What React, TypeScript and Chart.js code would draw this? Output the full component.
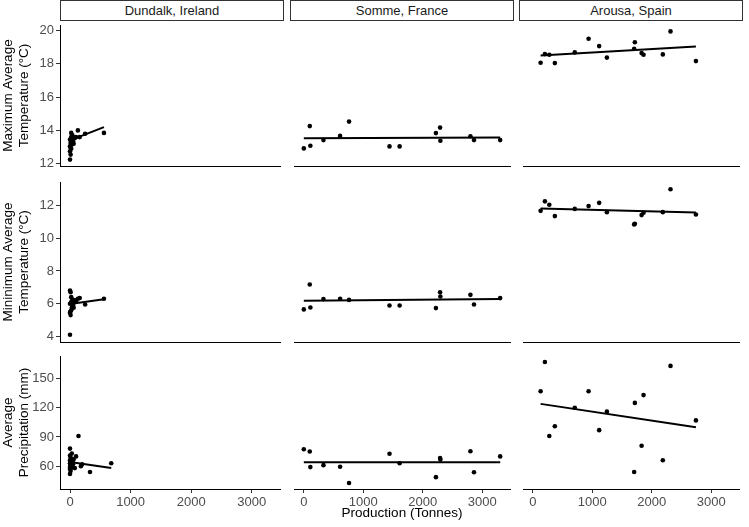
import React, { useEffect, useRef } from "react";
import { Chart, registerables } from "chart.js";

Chart.register(...registerables);

// ---------------- data ----------------
const sites = ["Dundalk, Ireland", "Somme, France", "Arousa, Spain"];
const rowTitles = [
  ["Maximum Average", "Temperature (°C)"],
  ["Mininimum Average", "Temperature (°C)"],
  ["Average", "Precipitation (mm)"],
];
const xTitle = "Production (Tonnes)";

const xTicks = [0, 1000, 2000, 3000];
const maxTempTicks = [12, 14, 16, 18, 20];
const minTempTicks = [4, 6, 8, 10, 12];
const precipTicks = [60, 90, 120, 150];

// Dundalk, Ireland
const dundalkX = [0, 10, 0, 20, 0, 30, 10, 50, 0, 60, 20, 80, 40, 100, 130, 160, 60, 250, 20, 40, 560, 5];
const dundalkMaxTemp = [12.25, 12.55, 12.75, 12.9, 13.05, 13.15, 13.25, 13.35, 13.45, 13.5, 13.6, 13.55, 13.7, 13.6, 14.0, 13.6, 13.2, 13.8, 13.85, 13.4, 13.85, 13.0];
const dundalkMinTemp = [4.1, 5.3, 5.45, 5.6, 6.8, 5.75, 6.7, 5.9, 6.0, 6.05, 6.1, 6.2, 6.25, 6.15, 6.3, 6.35, 5.75, 5.95, 6.4, 6.0, 6.3, 5.5];
const dundalkPrecipX = [0, 10, 0, 20, 0, 30, 10, 50, 0, 20, 40, 0, 60, 10, 0, 30, 0, 140, 100, 180, 330, 680, 200, 80];
const dundalkPrecip = [52, 55, 57, 58, 59, 60, 61, 62, 63, 64, 65, 66, 67, 69, 71, 73, 78, 91, 70, 60, 54, 63, 62, 58];
const dundalkFitX = [0, 560];
const dundalkPrecipFitX = [0, 680];
const dundalkMaxTempFit = [13.4, 14.2];
const dundalkMinTempFit = [5.98, 6.27];
const dundalkPrecipFit = [64.2, 58];

// Somme, France
const sommeX = [0, 100, 110, 330, 610, 760, 1440, 1610, 2220, 2290, 2295, 2800, 2860, 3300];
const sommeMaxTemp = [12.92, 14.26, 13.08, 13.42, 13.67, 14.53, 13.04, 13.04, 13.84, 14.17, 13.38, 13.65, 13.42, 13.42];
const sommeMinTemp = [5.65, 7.17, 5.77, 6.28, 6.3, 6.23, 5.89, 5.89, 5.73, 6.7, 6.44, 6.54, 5.95, 6.34];
const sommePrecip = [77.3, 75, 59, 61, 59.3, 42.7, 72.7, 63, 48.7, 68.3, 66.7, 75.3, 53.7, 70];
const sommeFitX = [0, 3300];
const sommeMaxTempFit = [13.53, 13.57];
const sommeMinTempFit = [6.18, 6.28];
const sommePrecipFit = [64, 64];

// Arousa, Spain
const arousaX = [131, 203, 277, 370, 705, 937, 1115, 1245, 1703, 1715, 1828, 1861, 2185, 2314, 2741];
const arousaMaxTemp = [18.06, 18.58, 18.54, 18.04, 18.68, 19.5, 19.06, 18.37, 18.9, 19.29, 18.64, 18.54, 18.56, 19.94, 18.16];
const arousaMinTemp = [11.68, 12.26, 12.05, 11.36, 11.8, 11.97, 12.17, 11.6, 10.85, 10.89, 11.42, 11.56, 11.6, 13.0, 11.46];
const arousaPrecip = [137, 167, 91, 101, 120, 137, 97, 116, 54, 125, 81, 133, 66, 163, 107];
const arousaFitX = [131, 2741];
const arousaMaxTempFit = [18.49, 19.04];
const arousaMinTempFit = [11.82, 11.58];
const arousaPrecipFit = [124, 100];

// ---------------- layout / style ----------------
const FONT = "'Liberation Sans', Arial, Helvetica, sans-serif";
const COL_LEFT = [60, 290, 519];
const PANEL_W = 224;
const ROW_TOP = [21, 178, 352];
const ROW_H = [147, 166, 137];
const Y_AXIS_W = 60;
const X_AXIS_H = 38;
const X_RANGE = [-165, 3465];
const Y_RANGES = [
  [11.865, 20.325],
  [3.655, 13.445],
  [36.5, 173.2],
];
const Y_TICKS = [maxTempTicks, minTempTicks, precipTicks];

const POINTS = [
  [[dundalkX, dundalkMaxTemp], [sommeX, sommeMaxTemp], [arousaX, arousaMaxTemp]],
  [[dundalkX, dundalkMinTemp], [sommeX, sommeMinTemp], [arousaX, arousaMinTemp]],
  [[dundalkPrecipX, dundalkPrecip], [sommeX, sommePrecip], [arousaX, arousaPrecip]],
];
const FITS = [
  [[dundalkFitX, dundalkMaxTempFit], [sommeFitX, sommeMaxTempFit], [arousaFitX, arousaMaxTempFit]],
  [[dundalkFitX, dundalkMinTempFit], [sommeFitX, sommeMinTempFit], [arousaFitX, arousaMinTempFit]],
  [[dundalkPrecipFitX, dundalkPrecipFit], [sommeFitX, sommePrecipFit], [arousaFitX, arousaPrecipFit]],
];

const zip = (xs: number[], ys: number[]) => xs.map((x, i) => ({ x, y: ys[i] }));

const zeroPadding = (s: any) => {
  s.paddingTop = 0;
  s.paddingBottom = 0;
  s.paddingLeft = 0;
  s.paddingRight = 0;
};

function Panel({ row, col }: { row: number; col: number }) {
  const ref = useRef<HTMLCanvasElement | null>(null);
  const isBottom = row === 2;
  const hasY = col === 0;
  const left = hasY ? 0 : COL_LEFT[col];
  const width = hasY ? COL_LEFT[0] + PANEL_W : PANEL_W;
  const top = ROW_TOP[row];
  const height = ROW_H[row] + (isBottom ? X_AXIS_H : 2);

  useEffect(() => {
    if (!ref.current) return;
    const [px, py] = POINTS[row][col];
    const [fx, fy] = FITS[row][col];
    const tickFont = { family: FONT, size: 13 };
    const titleFont = { family: FONT, size: 13.5, lineHeight: 1.2 };
    const chart = new Chart(ref.current, {
      type: "scatter",
      data: {
        datasets: [
          {
            data: zip(fx, fy),
            showLine: true,
            pointRadius: 0,
            borderColor: "#000",
            borderWidth: 2,
            order: 0,
          },
          {
            data: zip(px, py),
            showLine: false,
            pointRadius: 2.3,
            pointBackgroundColor: "#000",
            pointBorderWidth: 0,
            order: 1,
          },
        ],
      },
      options: {
        responsive: false,
        animation: false,
        devicePixelRatio: 1,
        events: [],
        layout: { padding: 0 },
        plugins: {
          legend: { display: false },
          tooltip: { enabled: false },
          title: { display: false },
        },
        scales: {
          x: {
            type: "linear",
            position: "bottom",
            min: X_RANGE[0],
            max: X_RANGE[1],
            grid: {
              display: isBottom,
              drawOnChartArea: false,
              drawTicks: true,
              tickLength: 4,
              color: "#333",
              lineWidth: 1,
            },
            border: { display: true, color: "#000", width: 1 },
            ticks: {
              display: isBottom,
              autoSkip: false,
              maxRotation: 0,
              minRotation: 0,
              padding: 2,
              color: "#4d4d4d",
              font: tickFont,
              callback: (v: any) => String(v),
            },
            title: {
              display: isBottom && col === 1,
              text: xTitle,
              color: "#000",
              font: titleFont,
              padding: { top: 0, bottom: 6 },
            },
            afterBuildTicks: (s: any) => {
              s.ticks = xTicks.map((v) => ({ value: v }));
            },
            afterFit: (s: any) => {
              s.height = isBottom ? X_AXIS_H : 2;
              zeroPadding(s);
            },
          },
          y: {
            type: "linear",
            position: "left",
            display: hasY,
            min: Y_RANGES[row][0],
            max: Y_RANGES[row][1],
            grid: {
              display: true,
              drawOnChartArea: false,
              drawTicks: true,
              tickLength: 4,
              color: "#333",
              lineWidth: 1,
            },
            border: { display: true, color: "#000", width: 1 },
            ticks: {
              autoSkip: false,
              padding: 2,
              color: "#4d4d4d",
              font: tickFont,
              callback: (v: any) => String(v),
            },
            title: {
              display: hasY,
              text: rowTitles[row],
              color: "#000",
              font: titleFont,
              padding: { top: 0, bottom: 0 },
            },
            afterBuildTicks: (s: any) => {
              s.ticks = Y_TICKS[row].map((v) => ({ value: v }));
            },
            afterFit: (s: any) => {
              s.width = hasY ? Y_AXIS_W : 0;
              zeroPadding(s);
            },
          },
        },
      } as any,
    });
    return () => chart.destroy();
  }, [row, col]);

  return (
    <canvas
      ref={ref}
      width={width}
      height={height}
      style={{ position: "absolute", left, top, width, height, display: "block" }}
    />
  );
}

export default function App() {
  const panels = [];
  for (let r = 0; r < 3; r++) {
    for (let c = 0; c < 3; c++) {
      panels.push(<Panel key={`${r}-${c}`} row={r} col={c} />);
    }
  }
  return (
    <div
      style={{
        position: "absolute",
        left: 0,
        top: 0,
        width: 749,
        height: 527,
        background: "#fff",
        overflow: "hidden",
      }}
    >
      {sites.map((s, i) => (
        <div
          key={s}
          style={{
            position: "absolute",
            left: COL_LEFT[i],
            top: 0,
            width: PANEL_W,
            height: 21,
            boxSizing: "border-box",
            border: "1px solid #333",
            display: "flex",
            alignItems: "center",
            justifyContent: "center",
            fontFamily: FONT,
            fontSize: 13,
            color: "#1a1a1a",
            background: "#fff",
          }}
        >
          {s}
        </div>
      ))}
      {panels}
    </div>
  );
}
